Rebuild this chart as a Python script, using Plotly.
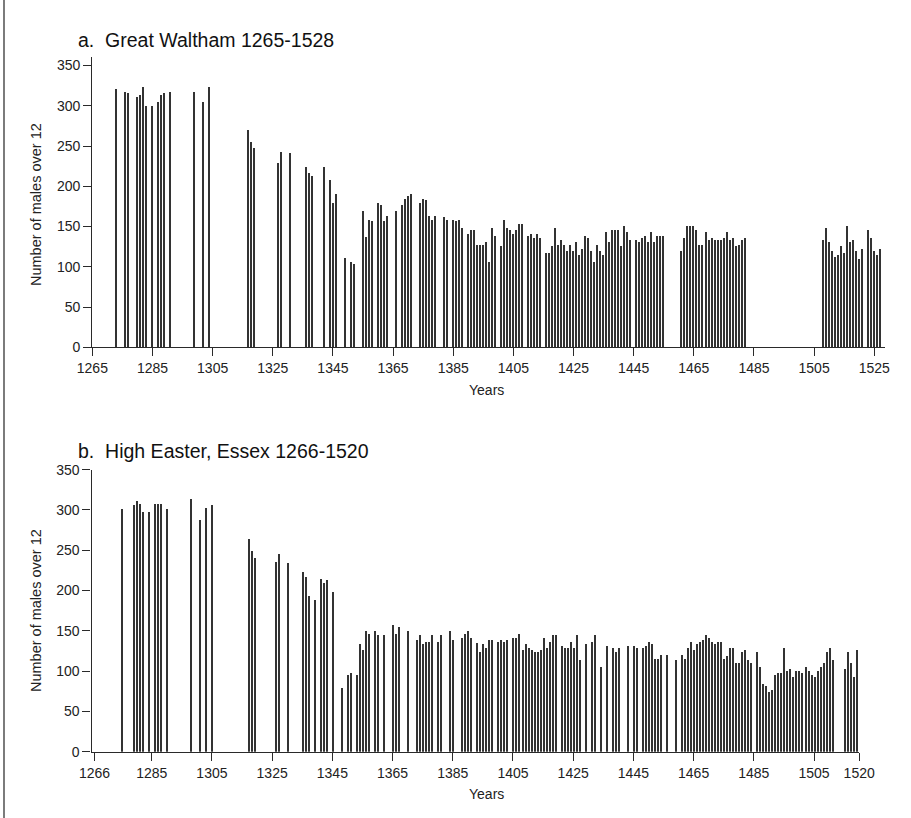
import plotly.graph_objects as go

W, H = 911, 818

# ---- Panel a: Great Waltham ----
years_a = [1273, 1276, 1277, 1280, 1281, 1282, 1283, 1285, 1287, 1288, 1289, 1291,
           1299, 1302, 1304, 1317, 1318, 1319, 1327, 1328, 1331, 1336, 1337, 1338,
           1342, 1344, 1345, 1346, 1349, 1351, 1352, 1355, 1356, 1357, 1358, 1360,
           1361, 1362, 1363, 1366, 1368, 1369, 1370, 1371, 1374, 1375, 1376, 1377,
           1378, 1379, 1382, 1383, 1385, 1386, 1387, 1388, 1390, 1391, 1392, 1393,
           1394, 1395, 1396, 1397, 1398, 1399, 1401, 1402, 1403, 1404, 1405, 1406,
           1407, 1408, 1410, 1411, 1412, 1413, 1414, 1416, 1417, 1418, 1419, 1420,
           1421, 1422, 1423, 1424, 1425, 1426, 1427, 1428, 1429, 1430, 1431, 1432,
           1433, 1434, 1435, 1436, 1437, 1438, 1439, 1440, 1441, 1442, 1443, 1444,
           1446, 1447, 1448, 1449, 1450, 1451, 1452, 1453, 1454, 1455,
           1461, 1462, 1463, 1464, 1465, 1466, 1467, 1468, 1469, 1470, 1471, 1472,
           1473, 1474, 1475, 1476, 1477, 1478, 1479, 1480, 1481, 1482,
           1508, 1509, 1510, 1511, 1512, 1513, 1514, 1515, 1516, 1517, 1518, 1519,
           1520, 1521, 1523, 1524, 1525, 1526, 1527]
males_a = [320, 317, 315, 310, 313, 323, 299, 299, 304, 313, 315, 317,
           317, 304, 323, 270, 255, 247, 229, 242, 241, 223, 216, 213,
           223, 208, 179, 190, 111, 106, 103, 169, 137, 158, 156, 179,
           176, 156, 163, 169, 176, 184, 187, 190, 179, 184, 182, 163,
           158, 163, 161, 158, 158, 156, 158, 148, 140, 145, 145, 127,
           127, 127, 130, 106, 148, 138, 125, 158, 148, 145, 140, 145,
           153, 153, 138, 140, 135, 140, 135, 117, 117, 125, 148, 127,
           133, 127, 119, 127, 119, 130, 114, 122, 138, 135, 119, 106,
           127, 119, 114, 143, 130, 145, 145, 145, 125, 150, 143, 133,
           133, 130, 135, 138, 130, 143, 130, 138, 138, 138,
           119, 135, 150, 150, 150, 145, 127, 127, 143, 133, 135, 133,
           133, 133, 135, 143, 133, 135, 125, 127, 133, 135,
           133, 148, 130, 119, 112, 114, 125, 117, 150, 130, 133, 119,
           109, 122, 145, 135, 119, 114, 122]

# ---- Panel b: High Easter, Essex ----
years_b = [1275, 1279, 1280, 1281, 1282, 1284, 1286, 1287, 1288, 1290, 1298, 1301,
           1303, 1305, 1317, 1318, 1319, 1326, 1327, 1330, 1335, 1336, 1337, 1339,
           1341, 1342, 1343, 1345, 1348, 1350, 1351, 1353, 1354, 1355, 1356, 1357,
           1359, 1360, 1362, 1365, 1366, 1367, 1370, 1373, 1374, 1375, 1376, 1377,
           1378, 1380, 1381, 1384, 1385, 1388, 1389, 1390, 1391, 1393, 1394, 1395,
           1396, 1397, 1398, 1400, 1401, 1402, 1403, 1405, 1406, 1407, 1408, 1409,
           1410, 1411, 1412, 1413, 1414, 1415, 1416, 1417, 1418, 1419, 1421, 1422,
           1423, 1424, 1425, 1426, 1427, 1429, 1431, 1432, 1434, 1436, 1438, 1439,
           1440, 1443, 1445, 1446, 1448, 1449, 1450, 1451, 1452, 1453, 1454, 1456,
           1459, 1461, 1462, 1463, 1464, 1465, 1466, 1467, 1468, 1469, 1470, 1471,
           1472, 1473, 1474, 1475, 1476, 1477, 1478, 1479, 1480, 1481, 1482, 1483,
           1484, 1486, 1487, 1488, 1489, 1490, 1491, 1492, 1493, 1494, 1495, 1496,
           1497, 1498, 1499, 1500, 1501, 1502, 1503, 1504, 1505, 1506, 1507, 1508,
           1509, 1510, 1511, 1515, 1516, 1517, 1518, 1519]
males_b = [301, 306, 311, 308, 298, 298, 308, 308, 308, 301, 314, 288,
           303, 306, 264, 249, 241, 236, 246, 234, 223, 217, 194, 189,
           215, 210, 213, 199, 80, 96, 98, 96, 134, 127, 150, 147,
           150, 145, 145, 158, 147, 155, 150, 139, 145, 134, 137, 137,
           145, 137, 145, 150, 139, 142, 147, 150, 142, 135, 124, 134,
           129, 139, 139, 137, 139, 137, 139, 142, 142, 147, 127, 134,
           129, 127, 124, 124, 127, 142, 129, 137, 145, 145, 132, 129,
           129, 137, 129, 145, 114, 134, 137, 145, 106, 132, 129, 124,
           129, 132, 132, 129, 129, 132, 137, 134, 116, 116, 121, 121,
           114, 121, 116, 129, 137, 127, 134, 137, 139, 145, 142, 137,
           134, 137, 137, 116, 119, 129, 129, 111, 111, 124, 127, 114,
           111, 124, 106, 85, 82, 75, 77, 96, 98, 98, 129, 101,
           103, 93, 101, 101, 98, 106, 101, 96, 93, 101, 106, 111,
           124, 129, 114, 103, 124, 111, 93, 127]

ticks_a = [1265, 1285, 1305, 1325, 1345, 1365, 1385, 1405, 1425, 1445, 1465, 1485, 1505, 1525]
ticks_b = [1266, 1285, 1305, 1325, 1345, 1365, 1385, 1405, 1425, 1445, 1465, 1485, 1505, 1520]
y_ticks = [0, 50, 100, 150, 200, 250, 300, 350]

title_a = "a.  Great Waltham 1265-1528"
title_b = "b.  High Easter, Essex 1266-1520"
y_title = "Number of males over 12"
x_title = "Years"

FONT = "Liberation Sans, Arial, Helvetica, sans-serif"
BAR = "#333333"
AX = "#2a2a2a"


def px_x(p):
    return p / W


def px_y(p):
    return 1 - p / H


fig = go.Figure()
fig.add_trace(go.Bar(x=years_a, y=males_a, width=0.34, marker=dict(color=BAR, line=dict(width=0)),
                     xaxis="x", yaxis="y", showlegend=False, hoverinfo="x+y"))
fig.add_trace(go.Bar(x=years_b, y=males_b, width=0.34, marker=dict(color=BAR, line=dict(width=0)),
                     xaxis="x2", yaxis="y2", showlegend=False, hoverinfo="x+y"))

axis_common = dict(showgrid=False, zeroline=False, showline=True, linecolor=AX, linewidth=1.3,
                   ticks="outside", ticklen=8, tickwidth=1.3, tickcolor=AX, automargin=False,
                   tickfont=dict(family=FONT, size=14, color="#222"))

fig.update_layout(
    template="none",
    width=W, height=H,
    margin=dict(l=0, r=0, t=0, b=0, pad=0),
    paper_bgcolor="white", plot_bgcolor="white",
    bargap=0,
    xaxis=dict(domain=[px_x(92.35), px_x(884.5)], range=[1265, 1528.4], anchor="y",
               tickmode="array", tickvals=ticks_a, ticktext=[str(t) for t in ticks_a], **axis_common),
    yaxis=dict(domain=[px_y(347.3), px_y(57.3)], range=[0, 360.2], anchor="x",
               tickmode="array", tickvals=y_ticks, **axis_common),
    xaxis2=dict(domain=[px_x(91.5), px_x(859.2)], range=[1265, 1520], anchor="y2",
                tickmode="array", tickvals=ticks_b, ticktext=[str(t) for t in ticks_b], **axis_common),
    yaxis2=dict(domain=[px_y(751.7), px_y(469.7)], range=[0, 350], anchor="x2",
                tickmode="array", tickvals=y_ticks, **axis_common),
    shapes=[dict(type="line", xref="paper", yref="paper", x0=px_x(4), x1=px_x(4), y0=0, y1=1,
                 line=dict(color="#444", width=1.4))],
)

ann = []
ann.append(dict(text=title_a, x=px_x(76), y=px_y(40.5), xref="paper", yref="paper",
                xanchor="left", yanchor="middle", showarrow=False,
                font=dict(family=FONT, size=19.5, color="#111")))
ann.append(dict(text=title_b, x=px_x(76), y=px_y(451), xref="paper", yref="paper",
                xanchor="left", yanchor="middle", showarrow=False,
                font=dict(family=FONT, size=19.5, color="#111")))
for yc in (205, 611):
    ann.append(dict(text=y_title, x=px_x(36), y=px_y(yc), xref="paper", yref="paper",
                    xanchor="center", yanchor="middle", textangle=-90, showarrow=False,
                    font=dict(family=FONT, size=14.5, color="#222")))
for xc, yc in ((486, 389.5), (486, 794)):
    ann.append(dict(text=x_title, x=px_x(xc), y=px_y(yc), xref="paper", yref="paper",
                    xanchor="center", yanchor="middle", showarrow=False,
                    font=dict(family=FONT, size=14, color="#222")))
fig.update_layout(annotations=ann)

fig.write_html("out.html")
